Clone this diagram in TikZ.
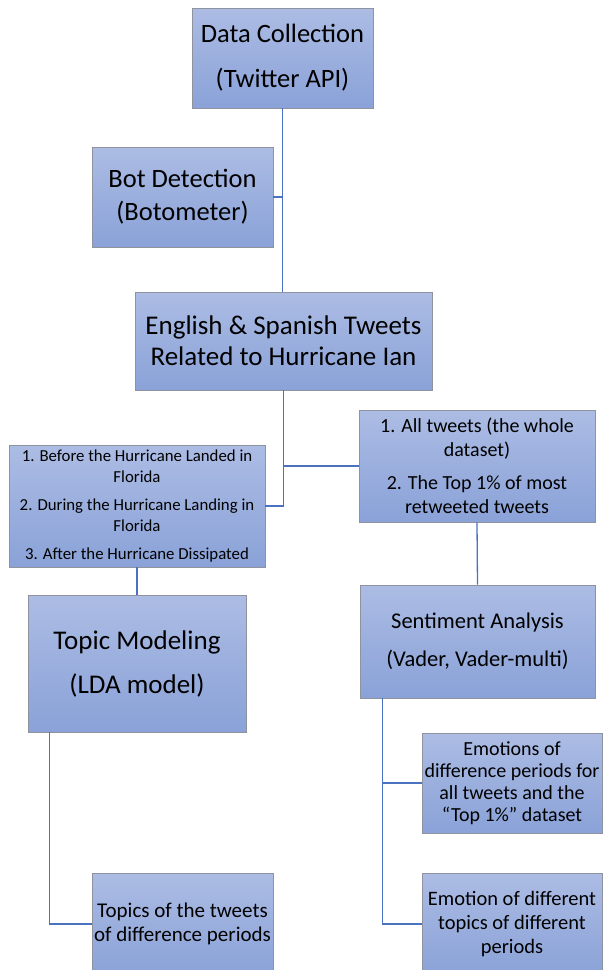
\documentclass[tikz,border=0pt]{standalone}
\usepackage{fontspec}
\setmainfont{Carlito}
\definecolor{boxtop}{HTML}{ACBCE4}
\definecolor{boxbot}{HTML}{8AA2D8}
\definecolor{boxline}{HTML}{8E939E}
\definecolor{linkblue}{HTML}{4A72C0}
\tikzset{
  fbox/.style={draw=boxline, line width=0.9pt, top color=boxtop, bottom color=boxbot,
    inner sep=0pt, align=center, text=black},
  link/.style={draw=linkblue, line width=1.3pt},
}
\newcommand{\fs}[2]{\fontsize{#1}{#2}\selectfont}
\begin{document}
\begin{tikzpicture}[x=1pt,y=-1pt]
\useasboundingbox (0,0) rectangle (603,970);
% boxes
\node[fbox, minimum width=181pt, minimum height=100pt, font=\fs{26.5}{30}] (collect) at (282.5,58)
  {Data Collection\\[15pt](Twitter API)};
\node[fbox, minimum width=181pt, minimum height=100pt, font=\fs{26.5}{33}] (bot) at (182.5,197)
  {Bot Detection\\(Botometer)};
\node[fbox, minimum width=297pt, minimum height=98pt, font=\fs{27}{31}] (tweets) at (283.5,341)
  {English \& Spanish Tweets\\Related to Hurricane Ian};
\node[fbox, minimum width=256pt, minimum height=122pt, font=\fs{16.8}{21}] (periods) at (137,506)
  {1. Before the Hurricane Landed in\\Florida\\[7pt]2. During the Hurricane Landing in\\Florida\\[7pt]3. After the Hurricane Dissipated};
\node[fbox, minimum width=236pt, minimum height=112pt, font=\fs{20}{24.5}] (sets) at (477,466)
  {1. All tweets (the whole\\dataset)\\[8pt]2. The Top 1\% of most\\retweeted tweets};
\node[fbox, minimum width=218pt, minimum height=137pt, font=\fs{27}{30}] (topic) at (137,663.5)
  {Topic Modeling\\[14pt](LDA model)};
\node[fbox, minimum width=235pt, minimum height=113pt, font=\fs{22.5}{27}] (senti) at (477.5,641.5)
  {Sentiment Analysis\\[11pt](Vader, Vader-multi)};
\node[fbox, minimum width=181pt, minimum height=102pt, font=\fs{21}{24}] (topics) at (182.5,924)
  {Topics of the tweets\\of difference periods};
\node[fbox, minimum width=180pt, minimum height=100pt, font=\fs{20}{22}] (emo1) at (512,783)
  {Emotions of\\difference periods for\\all tweets and the\\“Top 1\%” dataset};
\node[fbox, minimum width=180pt, minimum height=102pt, font=\fs{20.5}{24}] (emo2) at (512,924)
  {Emotion of different\\topics of different\\periods};
% connectors
\draw[link] (collect.south) -- (collect.south |- tweets.north);
\draw[link] (bot.east) -- (bot.east -| collect.south);
\draw[link] (tweets.south) |- (periods.east);
\draw[link] (tweets.south |- sets.west) -- (sets.west);
\draw[link] (periods.south) -- (topic.north);
\draw[link] (sets.south) -- (senti.north);
\coordinate (tl) at ([xshift=22pt]topic.south west);
\draw[link] (tl) |- (topics.west);
\coordinate (sl) at ([xshift=23pt]senti.south west);
\draw[link] (sl) |- (emo1.west);
\draw[link] (sl) |- (emo2.west);
\end{tikzpicture}
\end{document}
